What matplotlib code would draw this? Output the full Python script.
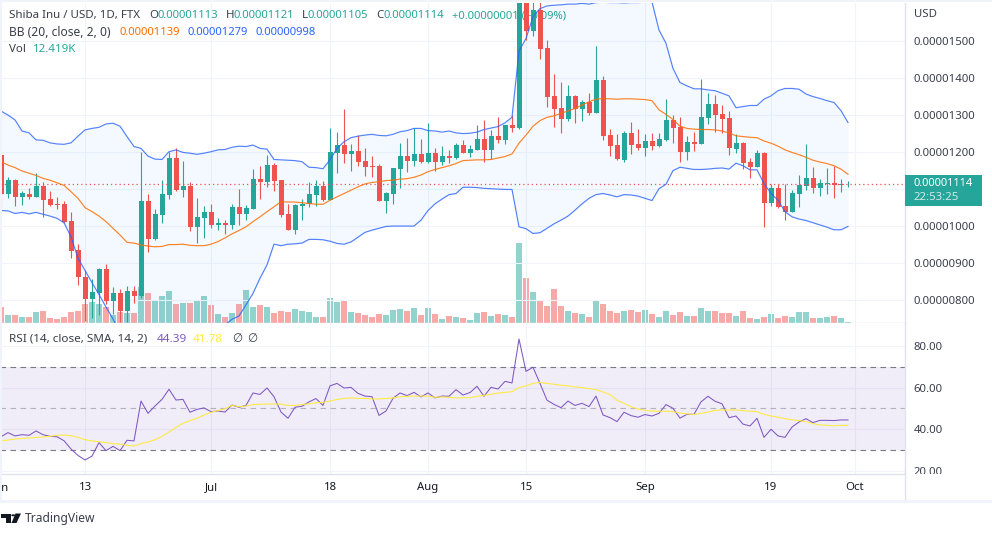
import matplotlib
matplotlib.use('Agg')
import matplotlib.pyplot as plt
import matplotlib.dates as mdates
from matplotlib.lines import Line2D
from matplotlib.patches import Rectangle, Polygon, Circle
import numpy as np
import pandas as pd

# prices are in units of 0.00000001 USD
open_ = [1191,1086,1123,1078,1087,1078,1107,1072,1060,1059,
         1013,934,861,803,819,883,796,818,770,823,
         809,1067,964,1029,1083,1184,1096,1107,996,1021,
         1037,1001,1006,1002,1051,1032,1045,1126,1118,1164,
         1123,1032,988,1053,1059,1083,1107,1069,1196,1218,
         1194,1202,1175,1161,1161,1067,1086,1153,1188,1175,
         1194,1172,1196,1172,1188,1183,1218,1196,1205,1234,
         1205,1242,1232,1272,1264,1640,1526,1583,1480,1351,
         1318,1288,1351,1315,1334,1305,1394,1245,1218,1178,
         1251,1221,1210,1229,1215,1232,1286,1267,1199,1226,
         1221,1291,1329,1302,1291,1207,1224,1172,1159,1196,
         1061,1102,1053,1037,1086,1107,1129,1102,1113,1115,
         1111,1113]
high = [1196,1133,1125,1095,1101,1142,1119,1095,1077,1067,
        1038,951,880,855,887,896,833,828,837,837,
        1198,1086,1044,1123,1200,1209,1175,1119,1076,1053,
        1060,1020,1015,1059,1098,1056,1153,1161,1191,1169,
        1123,1059,1059,1072,1117,1123,1121,1264,1253,1315,
        1221,1245,1210,1188,1167,1091,1157,1224,1237,1264,
        1234,1278,1210,1215,1205,1224,1232,1218,1272,1286,
        1259,1294,1272,1299,1660,1665,1637,1628,1502,1410,
        1388,1380,1353,1340,1359,1486,1405,1261,1248,1256,
        1280,1261,1248,1251,1251,1342,1299,1294,1242,1253,
        1396,1359,1353,1326,1310,1248,1226,1183,1205,1199,
        1113,1113,1113,1096,1137,1221,1159,1126,1156,1161,
        1126,1121]
low = [1051,1074,1054,1056,1071,1078,1024,1053,1045,1008,
       914,840,743,750,759,788,761,741,741,792,
       804,930,961,1008,1072,1095,1078,986,954,968,
       995,988,978,990,1002,1015,1045,1072,1105,1094,
       1024,988,978,1015,1051,1053,1067,1069,1143,1170,
       1149,1162,1135,1133,1067,1033,1058,1103,1145,1162,
       1170,1170,1148,1164,1169,1180,1196,1186,1205,1172,
       1180,1224,1221,1253,1262,1502,1513,1451,1321,1267,
       1251,1283,1278,1283,1299,1305,1232,1188,1178,1172,
       1194,1205,1188,1205,1213,1229,1224,1172,1178,1202,
       1221,1275,1253,1251,1191,1196,1153,1129,1159,996,
       1053,1048,1015,1037,1051,1096,1088,1080,1086,1075,
       1091,1105]
close = [1086,1123,1078,1089,1078,1107,1069,1057,1057,1011,
         932,860,803,821,883,796,818,770,823,811,
         1067,964,1032,1086,1184,1096,1107,997,1024,1037,
         1002,1006,1002,1051,1032,1048,1126,1118,1164,1121,
         1029,988,1056,1060,1086,1107,1069,1199,1218,1194,
         1202,1172,1159,1159,1067,1088,1156,1188,1175,1194,
         1172,1196,1172,1188,1183,1218,1196,1207,1234,1205,
         1242,1232,1272,1264,1640,1526,1583,1478,1348,1315,
         1288,1351,1315,1334,1305,1394,1242,1215,1180,1251,
         1218,1210,1229,1215,1234,1286,1264,1199,1226,1221,
         1294,1329,1299,1288,1210,1224,1169,1159,1196,1061,
         1102,1051,1037,1088,1110,1129,1102,1115,1115,1111,
         1114,1114]

bb_upper = [1310,1299,1286,1256,1251,1232,1231,1224,1221,1220,
            1224,1242,1259,1263,1266,1275,1277,1269,1241,1214,
            1209,1188,1180,1179,1200,1205,1198,1196,1193,1196,
            1200,1205,1206,1212,1215,1214,1218,1209,1207,1179,
            1178,1177,1176,1173,1158,1157,1154,1178,1209,1227,
            1238,1242,1245,1247,1244,1243,1247,1254,1257,1263,
            1263,1257,1256,1253,1256,1251,1249,1250,1253,1260,
            1264,1268,1278,1293,1472,1506,1565,1587,1594,1596,
            1597,1599,1599,1601,1599,1603,1604,1603,1603,1602,
            1603,1603,1604,1605,1529,1493,1425,1387,1378,1370,
            1370,1367,1365,1358,1351,1319,1322,1325,1325,1342,
            1351,1365,1371,1371,1369,1356,1349,1344,1338,1333,
            1311,1279]
bb_mid = [1173,1164,1157,1148,1142,1136,1128,1123,1116,1109,
          1092,1074,1049,1038,1026,1011,993,975,955,953,
          948,945,943,944,949,949,950,947,946,946,
          950,957,967,978,987,997,1011,1024,1038,1051,
          1065,1064,1064,1062,1060,1058,1058,1069,1078,1087,
          1096,1105,1113,1117,1119,1122,1123,1126,1127,1131,
          1137,1146,1152,1157,1162,1168,1176,1177,1178,1178,
          1179,1183,1187,1194,1223,1245,1269,1284,1293,1297,
          1304,1310,1317,1326,1335,1342,1344,1343,1342,1343,
          1343,1342,1341,1338,1313,1301,1287,1269,1263,1261,
          1260,1260,1259,1256,1251,1243,1241,1239,1238,1229,
          1223,1215,1205,1198,1192,1185,1177,1172,1168,1162,
          1153,1139]
bb_lower = [1041,1040,1033,1036,1032,1036,1031,1026,1020,1008,
            970,912,879,846,814,780,748,709,664,637,
            619,610,610,610,619,628,637,646,655,673,
            691,709,732,747,756,786,817,858,894,950,
            946,950,951,953,963,963,962,958,952,950,
            956,969,982,988,993,998,999,999,999,999,
            1015,1041,1059,1072,1084,1087,1104,1104,1103,1101,
            1100,1099,1098,1098,997,992,979,981,993,1005,
            1015,1026,1042,1059,1074,1084,1087,1083,1078,1084,
            1083,1080,1074,1068,1100,1112,1149,1158,1155,1152,
            1152,1153,1155,1156,1153,1169,1162,1151,1151,1114,
            1087,1069,1038,1024,1018,1014,1008,1002,996,989,
            989,998]

# volume in thousands
volume = [192,96,96,72,72,132,144,60,48,72,
          132,144,228,252,228,196,96,136,116,116,
          436,364,276,324,384,228,240,240,264,324,
          216,108,72,120,228,396,192,216,192,120,
          144,132,168,144,132,72,72,300,252,264,
          132,120,96,72,108,96,156,168,144,180,
          96,180,108,48,84,72,60,36,120,132,
          84,108,96,72,960,540,372,276,204,408,
          204,144,120,108,72,264,228,144,120,144,
          156,132,156,108,72,144,96,132,84,84,
          180,144,144,120,120,84,144,60,48,72,
          108,60,84,72,132,132,60,60,72,84,
          60,12]

rsi = [36.3,38.3,36.7,37.3,37.0,39.1,37.3,36.5,36.3,34.4,
       30.4,27.3,25.1,27.0,33.5,29.6,31.7,29.6,34.6,34.3,
       53.5,47.6,51.1,54.3,59.2,54.0,54.3,48.1,49.5,50.2,
       48.4,48.7,48.2,51.6,50.5,51.4,57.4,56.7,59.8,55.6,
       48.2,45.2,50.5,51.0,53.1,54.7,51.4,60.8,62.0,59.8,
       60.1,57.2,55.9,55.6,46.6,48.7,54.8,57.4,56.1,57.7,
       55.5,57.4,55.0,55.9,55.8,59.0,56.4,57.6,60.6,55.8,
       60.1,59.3,63.0,62.2,83.4,67.8,69.8,62.0,53.9,51.9,
       50.3,53.5,51.4,52.4,50.8,55.9,46.8,45.5,43.6,48.1,
       46.5,45.7,47.0,46.3,47.6,51.8,50.0,45.3,47.1,47.1,
       53.1,55.8,53.4,52.2,45.5,46.3,42.4,41.5,45.2,36.0,
       39.9,36.7,36.0,41.0,43.4,45.0,43.1,44.2,44.2,44.1,
       44.4,44.39]
rsi_ma = [34.4,34.7,35.2,35.5,35.7,36.0,36.2,36.5,37.0,37.1,
          36.8,36.0,34.9,34.3,33.9,33.5,33.0,32.7,32.2,31.8,
          33.0,33.8,34.9,36.5,38.6,40.8,42.8,44.1,45.2,46.8,
          48.1,48.9,49.8,51.4,50.8,51.1,51.8,52.0,52.0,52.1,
          52.0,51.4,51.4,51.8,52.2,52.6,52.9,53.5,54.3,54.8,
          55.0,54.8,54.8,54.5,54.5,54.7,55.0,55.5,55.8,55.9,
          55.9,55.9,55.3,55.5,55.3,55.0,55.1,55.1,55.8,56.3,
          56.7,57.4,57.7,58.0,60.0,60.8,62.0,62.5,62.0,61.6,
          61.1,60.8,60.3,60.0,59.5,59.0,57.9,56.6,53.9,52.4,
          50.8,49.7,49.0,48.7,48.6,48.6,48.4,47.8,47.3,47.0,
          47.6,48.2,49.0,49.2,49.2,49.2,48.9,48.6,48.4,47.1,
          46.3,45.7,45.0,44.5,44.1,43.6,42.6,42.0,41.8,41.6,
          41.8,41.78]

price_ticks = [800, 900, 1000, 1100, 1200, 1300, 1400, 1500]
price_labels = ['0.00000800', '0.00000900', '0.00001000', '', '0.00001200',
                '0.00001300', '0.00001400', '0.00001500']
rsi_ticks = [20, 40, 60, 80]
rsi_labels = ['20.00', '40.00', '60.00', '80.00']
time_ticks = ['2022-06-01', '2022-06-13', '2022-07-01', '2022-07-18', '2022-08-01',
              '2022-08-15', '2022-09-01', '2022-09-19', '2022-10-01']
time_labels = ['Jun', '13', 'Jul', '18', 'Aug', '15', 'Sep', '19', 'Oct']

UP = '#26a69a'
DOWN = '#ef5350'
BLUE = '#2962ff'
ORANGE = '#ff6d00'
PURPLE = '#7e57c2'
YELLOW = '#ffeb3b'
GRID = '#f0f3fa'
BORDER = '#e0e3eb'
TEXT = '#3a3e4a'
LOGO = '#131722'

plt.rcParams['font.family'] = ['Noto Sans', 'DejaVu Sans']
plt.rcParams['font.size'] = 8.2

W, H = 992, 536
dpi = 100
fig = plt.figure(figsize=(W / dpi, H / dpi), dpi=dpi, facecolor='white')


def pane(left, top, right, bottom):
    return [left / W, 1 - bottom / H, (right - left) / W, (bottom - top) / H]


def fx(x):
    return x / W


def fy(y):
    return 1 - y / H


dates = pd.date_range('2022-06-01', periods=len(close), freq='D')
x = mdates.date2num(dates)
o, h, l, c = [np.array(a) * 1e-8 for a in (open_, high, low, close)]
up = np.array(close) >= np.array(open_)
tick_x = mdates.date2num(pd.to_datetime(time_ticks))
# 7 px per day, Jun 1 sits on px 1
xlim = (x[0] - 1 / 7, x[0] + (904.5 - 1) / 7)
price_lim = (737e-8, 1602e-8)

# volume sits behind the candles
ax_vol = fig.add_axes(pane(0, 3, 904.5, 323), zorder=1)
ax_vol.bar(x, volume, width=6 / 7, color=np.where(up, '#92d3cd', '#f7a9a7'), linewidth=0)
ax_vol.set_xlim(xlim)
ax_vol.set_ylim(0, 3840)
ax_vol.axis('off')

ax = fig.add_axes(pane(0, 3, 904.5, 323), zorder=2)
ax.patch.set_alpha(0)
ax.set_xlim(xlim)
ax.set_ylim(price_lim)
ax.set_axisbelow(True)
ax.grid(True, color=GRID, linewidth=0.8)

ax.fill_between(x, np.array(bb_upper) * 1e-8, np.array(bb_lower) * 1e-8,
                color='#2196f3', alpha=0.05, linewidth=0, zorder=1.5)
ax.plot(x, np.array(bb_upper) * 1e-8, color=BLUE, lw=0.85, alpha=0.8, zorder=4)
ax.plot(x, np.array(bb_lower) * 1e-8, color=BLUE, lw=0.85, alpha=0.8, zorder=4)
ax.plot(x, np.array(bb_mid) * 1e-8, color=ORANGE, lw=0.85, alpha=0.85, zorder=4)

colors = np.where(up, UP, DOWN)
ax.vlines(x, l, h, colors=colors, linewidth=0.8, zorder=3)
ax.bar(x, np.abs(c - o), bottom=np.minimum(o, c), width=5 / 7, color=colors,
       linewidth=0, zorder=3.1)
ax.axhline(c[-1], color=DOWN, lw=0.9, ls=(0, (1, 2.4)), zorder=3.5)

ax.set_xticks(tick_x)
ax.tick_params(axis='x', length=0, labelbottom=False)
ax.set_yticks(np.array(price_ticks) * 1e-8)
ax.set_yticklabels(price_labels)
ax.yaxis.tick_right()
ax.tick_params(axis='y', length=0, pad=6.6, labelcolor=TEXT, labelsize=8.2)
for s in ['top', 'left']:
    ax.spines[s].set_visible(False)
for s in ['right', 'bottom']:
    ax.spines[s].set_color(BORDER)
    ax.spines[s].set_linewidth(1)


# legend text goes under the candles, the pump candle covers part of it
def legend(items, y):
    for px, txt, col, size in items:
        ax.text(fx(px), fy(y), txt, color=col, fontsize=size, ha='left', va='center',
                transform=fig.transFigure, zorder=1, clip_on=False)


legend([(9, 'Shiba Inu / USD, 1D, FTX', TEXT, 8.3), (149, 'O', TEXT, 8.3),
        (158, '0.00001113', UP, 8.1), (226, 'H', TEXT, 8.3), (233, '0.00001121', UP, 8.1),
        (302, 'L', TEXT, 8.3), (307, '0.00001105', UP, 8.1), (376, 'C', TEXT, 8.3),
        (383, '0.00001114', UP, 8.1), (452, '+0.00000001 (+0.09%)', UP, 8.1)], 15.5)
legend([(9, 'BB (20, close, 2, 0)', TEXT, 8.7), (119, '0.00001139', ORANGE, 8.1),
        (187, '0.00001279', BLUE, 8.1), (255, '0.00000998', BLUE, 8.1)], 32.5)
legend([(9, 'Vol', TEXT, 8.3), (33, '12.419K', UP, 8.3)], 49.5)

# RSI pane
ax_rsi = fig.add_axes(pane(0, 323, 904.5, 473.5), zorder=2)
ax_rsi.set_xlim(xlim)
ax_rsi.set_ylim(18.6, 91.1)
ax_rsi.set_axisbelow(True)
ax_rsi.grid(True, color=GRID, linewidth=0.8)
ax_rsi.axhspan(30, 70, color=PURPLE, alpha=0.11, linewidth=0, zorder=1)
ax_rsi.axhline(70, color='#787b86', lw=0.8, ls=(0, (5, 4)), zorder=1.5)
ax_rsi.axhline(30, color='#787b86', lw=0.8, ls=(0, (5, 4)), zorder=1.5)
ax_rsi.axhline(50, color='#787b86', lw=0.8, alpha=0.5, ls=(0, (5, 4)), zorder=1.5)
ax_rsi.plot(x, rsi, color=PURPLE, lw=0.75, zorder=3)
ax_rsi.plot(x, rsi_ma, color=YELLOW, lw=0.75, zorder=3)
ax_rsi.set_xticks(tick_x)
ax_rsi.set_xticklabels(time_labels)
ax_rsi.set_yticks(rsi_ticks)
ax_rsi.set_yticklabels(rsi_labels)
ax_rsi.yaxis.tick_right()
ax_rsi.tick_params(axis='x', length=0, pad=6, labelcolor=LOGO, labelsize=8.2)
ax_rsi.tick_params(axis='y', length=0, pad=6.6, labelcolor=TEXT, labelsize=8.2)
for s in ['top', 'left']:
    ax_rsi.spines[s].set_visible(False)
for s in ['right', 'bottom']:
    ax_rsi.spines[s].set_color(BORDER)
    ax_rsi.spines[s].set_linewidth(1)

for px, txt, col in [(9, 'RSI (14, close, SMA, 14, 2)', TEXT), (157, '44.39', PURPLE),
                     (193, '41.78', YELLOW), (232, '∅', TEXT), (247, '∅', TEXT)]:
    ax_rsi.text(fx(px), fy(339), txt, color=col, fontsize=8.4, ha='left', va='center',
                transform=fig.transFigure, zorder=5)

# page furniture: strips, cut off 20.00 label, price tag, logo
fig.add_artist(Rectangle((fx(905), fy(500)), 87 / W, 26 / H, transform=fig.transFigure,
                         facecolor='white', edgecolor='none', zorder=5))
fig.add_artist(Line2D([fx(904.5)] * 2, [fy(473), fy(500)], color=BORDER, lw=1, zorder=6))
fig.add_artist(Rectangle((0, fy(2)), 1, 2 / H, transform=fig.transFigure,
                         facecolor=GRID, edgecolor='none', zorder=6))
fig.add_artist(Rectangle((0, fy(503)), 1, 3 / H, transform=fig.transFigure,
                         facecolor=GRID, edgecolor='none', zorder=6))
fig.add_artist(Rectangle((0, fy(500)), 1.5 / W, 500 / H, transform=fig.transFigure,
                         facecolor=GRID, edgecolor='none', zorder=6))

fig.add_artist(Rectangle((fx(904.5), fy(206)), 77.5 / W, 31 / H, transform=fig.transFigure,
                         facecolor=UP, edgecolor='none', zorder=6))
fig.text(fx(914), fy(183.5), '0.00001114', color='white', fontsize=8.0, fontweight='bold',
         ha='left', va='center', zorder=7)
fig.text(fx(914), fy(197), '22:53:25', color='#cdeae7', fontsize=8.2, ha='left', va='center',
         zorder=7)
fig.text(fx(914), fy(14.5), 'USD', color=TEXT, fontsize=8.2, ha='left', va='center', zorder=7)

fig.add_artist(Polygon([(fx(1), fy(513.5)), (fx(11), fy(513.5)), (fx(11), fy(523)),
                        (fx(6), fy(523)), (fx(6), fy(517.5)), (fx(1), fy(517.5))],
                       transform=fig.transFigure, facecolor=LOGO, edgecolor='none', zorder=6))
fig.add_artist(Polygon([(fx(15.5), fy(513.5)), (fx(21), fy(513.5)), (fx(16.5), fy(523)),
                        (fx(11.5), fy(523))],
                       transform=fig.transFigure, facecolor=LOGO, edgecolor='none', zorder=6))
fig.add_artist(Circle((fx(13.2), fy(515.3)), 1.9 / W, transform=fig.transFigure,
                      facecolor=LOGO, edgecolor='none', zorder=6))
fig.text(fx(25), fy(518.5), 'TradingView', color=TEXT, fontsize=8.7, ha='left', va='center')

fig.savefig('out.png', dpi=dpi, facecolor='white')
